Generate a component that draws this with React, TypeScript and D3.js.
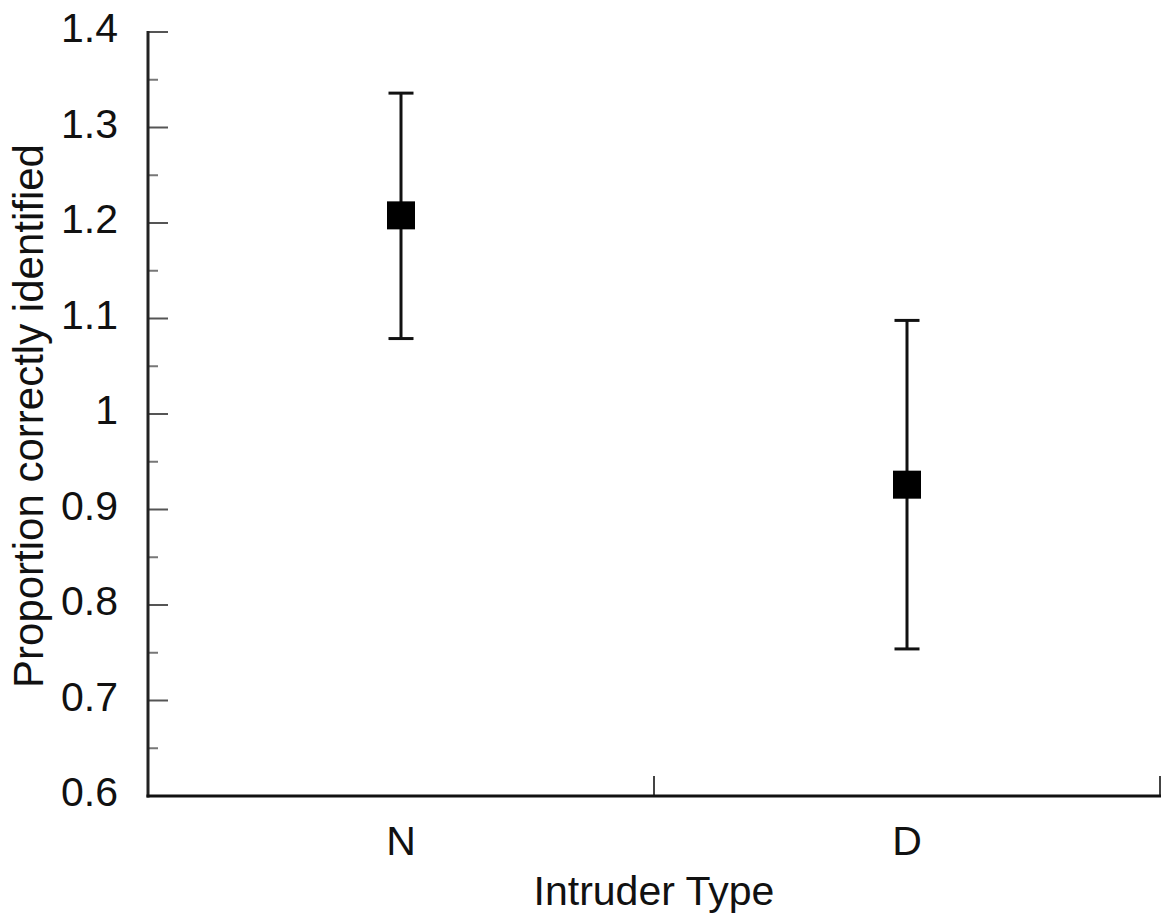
import React from "react";
import * as d3 from "d3";

const categories = ["N", "D"];
const means = [1.208, 0.926];
const upper = [1.336, 1.098];
const lower = [1.079, 0.754];
const majorTicks = [0.6, 0.7, 0.8, 0.9, 1.0, 1.1, 1.2, 1.3, 1.4];
const minorTicks = [0.65, 0.75, 0.85, 0.95, 1.05, 1.15, 1.25, 1.35];
const tickLabels = ["0.6", "0.7", "0.8", "0.9", "1", "1.1", "1.2", "1.3", "1.4"];

const W = 1167;
const H = 913;
const left = 148;
const right = 1160;
const top = 32;
const bottom = 796;
const FONT = "'Liberation Sans', Arial, Helvetica, sans-serif";

export default function App() {
  const x = d3.scaleBand<string>().domain(categories).range([left, right]).padding(0);
  const y = d3.scaleLinear().domain([0.6, 1.4]).range([bottom, top]);
  const bw = x.bandwidth();
  const sq = 28;
  const cap = 25;
  return (
    <div style={{ position: "absolute", left: 0, top: 0 }}>
      <svg width={W} height={H} style={{ display: "block", background: "#fff" }}>
        {/* minor ticks */}
        {minorTicks.map((t) => (
          <line key={"m" + t} x1={left} x2={left + 10} y1={y(t)} y2={y(t)} stroke="#777" strokeWidth={2} />
        ))}
        {majorTicks.map((t, i) => (
          <g key={"M" + t}>
            <line x1={left} x2={left + 20} y1={y(t)} y2={y(t)} stroke="#555" strokeWidth={2} />
            <text
              x={118}
              y={y(t) - 4}
              textAnchor="end"
              dominantBaseline="central"
              fontFamily={FONT}
              fontSize={41}
              fill="#111"
            >
              {tickLabels[i]}
            </text>
          </g>
        ))}
        {/* x ticks at band boundaries */}
        {[x("D")!, right].map((px, i) => (
          <line key={"xt" + i} x1={px} x2={px} y1={bottom} y2={bottom - 20} stroke="#444" strokeWidth={2} />
        ))}
        {/* axes */}
        <line x1={left} x2={left} y1={top - 1} y2={bottom + 1.5} stroke="#222" strokeWidth={3} />
        <line x1={left - 1.5} x2={right + 1} y1={bottom} y2={bottom} stroke="#111" strokeWidth={3} />
        {/* category labels */}
        {categories.map((c) => (
          <text
            key={"c" + c}
            x={x(c)! + bw / 2}
            y={855}
            textAnchor="middle"
            fontFamily={FONT}
            fontSize={41}
            fill="#111"
          >
            {c}
          </text>
        ))}
        {/* error bars */}
        {categories.map((c, i) => {
          const cx = x(c)! + bw / 2;
          return (
            <g key={"e" + c}>
              <line x1={cx} x2={cx} y1={y(upper[i])} y2={y(lower[i])} stroke="#111" strokeWidth={3} />
              <line x1={cx - cap / 2} x2={cx + cap / 2} y1={y(upper[i])} y2={y(upper[i])} stroke="#111" strokeWidth={3} />
              <line x1={cx - cap / 2} x2={cx + cap / 2} y1={y(lower[i])} y2={y(lower[i])} stroke="#111" strokeWidth={3} />
              <rect x={cx - sq / 2} y={y(means[i]) - sq / 2} width={sq} height={sq} fill="#000" />
            </g>
          );
        })}
        {/* axis titles */}
        <text
          x={(left + right) / 2}
          y={905}
          textAnchor="middle"
          fontFamily={FONT}
          fontSize={41}
          fill="#111"
        >
          Intruder Type
        </text>
        <text
          transform={`translate(43, 416) rotate(-90)`}
          textAnchor="middle"
          fontFamily={FONT}
          fontSize={42}
          fill="#111"
        >
          Proportion correctly identified
        </text>
      </svg>
    </div>
  );
}
